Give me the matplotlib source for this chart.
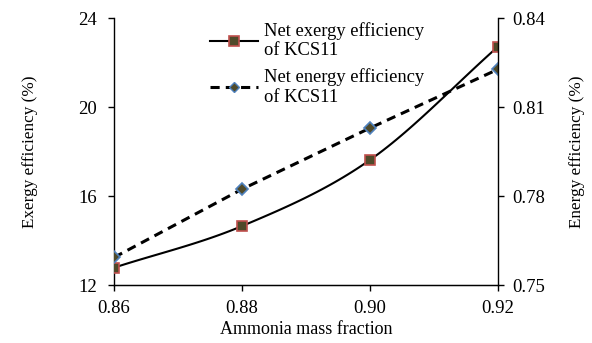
import numpy as np
import matplotlib
matplotlib.use("Agg")
import matplotlib.pyplot as plt

plt.rcParams['font.family'] = ['Liberation Serif', 'DejaVu Serif']

# data
ammonia = [0.86, 0.88, 0.90, 0.92]
exergy_eff = [12.78, 14.65, 17.62, 22.71]     # left axis (%)
energy_eff = [0.7593, 0.7823, 0.8029, 0.8227]  # right axis

x_ticks = [0.86, 0.88, 0.90, 0.92]
left_ticks = [12, 16, 20, 24]
right_ticks = [0.75, 0.78, 0.81, 0.84]


def smooth(xs, ys, n=30):
    # catmull-rom curve through the points, like Excel's smoothed line
    xs = np.asarray(xs, float)
    ys = np.asarray(ys, float)
    px = np.concatenate([[2*xs[0]-xs[1]], xs, [2*xs[-1]-xs[-2]]])
    py = np.concatenate([[2*ys[0]-ys[1]], ys, [2*ys[-1]-ys[-2]]])
    ox, oy = [], []
    t = np.linspace(0, 1, n)
    for i in range(1, len(px)-2):
        for p, o in ((px, ox), (py, oy)):
            p0, p1, p2, p3 = p[i-1], p[i], p[i+1], p[i+2]
            o.extend(0.5*((2*p1) + (-p0+p2)*t + (2*p0-5*p1+4*p2-p3)*t**2
                          + (-p0+3*p1-3*p2+p3)*t**3))
    return ox, oy


fig = plt.figure(figsize=(5.92, 3.43), dpi=100)
ax = fig.add_axes([0.1926, 0.169, 0.6484, 0.7785])
ax2 = ax.twinx()

sx, sy = smooth(ammonia, exergy_eff)
ax.plot(sx, sy, color='black', lw=1.5, zorder=2)
ax.plot(ammonia, exergy_eff, ls='none', marker='s', ms=7,
        mfc='#4f4a2a', mec='#c0504d', mew=1.2, zorder=3)
ax2.plot(ammonia, energy_eff, color='black', lw=2.2, ls=(0, (3, 2)),
         marker='D', ms=6, mfc='#4f4a2a', mec='#4f81bd', mew=1.2)

ax.set_xlim(0.86, 0.92)
ax.set_ylim(12, 24)
ax2.set_ylim(0.75, 0.84)
ax.set_xticks(x_ticks)
ax.set_xticklabels(['%.2f' % v for v in x_ticks])
ax.set_yticks(left_ticks)
ax2.set_yticks(right_ticks)
ax2.set_yticklabels(['%.2f' % v for v in right_ticks])

for a in (ax, ax2):
    a.spines['top'].set_visible(False)
    a.tick_params(labelsize=13.5, length=4.5, width=1, direction='out', color='black')
ax.tick_params(axis='y', pad=8)
ax.tick_params(axis='x', pad=6)
ax2.tick_params(axis='y', pad=6)
ax.spines['left'].set_linewidth(1)
ax2.spines['right'].set_linewidth(1)
ax.spines['bottom'].set_linewidth(1)
ax.spines['right'].set_visible(False)
ax2.spines['left'].set_visible(False)

ax.set_xlabel('Ammonia mass fraction', fontsize=13, labelpad=3)
ax.set_ylabel('Exergy efficiency (%)', fontsize=12.3, labelpad=29)
ax2.set_ylabel('Energy efficiency (%)', fontsize=12.3, labelpad=17)

h1 = plt.Line2D([], [], color='black', lw=1.5, marker='s', ms=7,
                mfc='#4f4a2a', mec='#c0504d', mew=1.2)
h2 = plt.Line2D([], [], color='black', lw=2.2, ls=(0, (3, 2)), marker='D', ms=5,
                mfc='#4f4a2a', mec='#4f81bd', mew=1.0)
fig.legend([h1, h2], ['Net exergy efficiency\nof KCS11', 'Net energy efficiency\nof KCS11'],
           loc='upper left', bbox_to_anchor=(0.327, 0.985), frameon=False,
           fontsize=13.3, handlelength=2.6, handletextpad=0.3, labelspacing=0.5)

fig.savefig('out.png', dpi=100)
